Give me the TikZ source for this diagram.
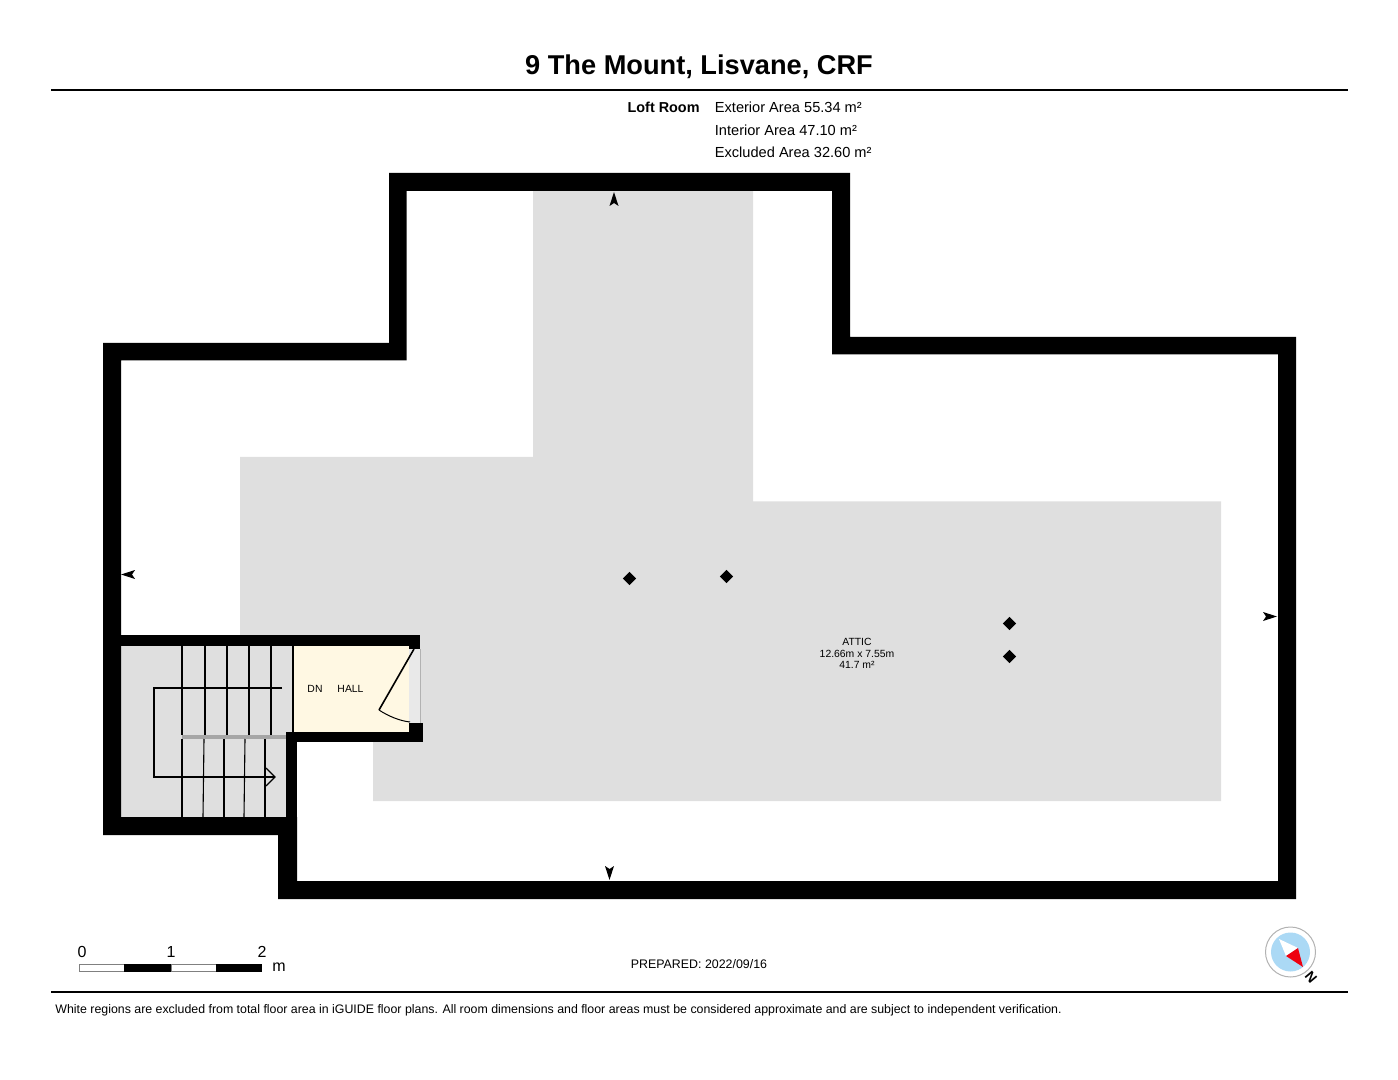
\documentclass[tikz,border=0pt]{standalone}
\usepackage{fontspec}
\setmainfont{Liberation Sans}
\usetikzlibrary{shapes.geometric}
\definecolor{AtticGray}{HTML}{DFDFDF}
\definecolor{HallCream}{HTML}{FFF8E3}
\definecolor{DoorGray}{HTML}{E9E9E9}
\definecolor{CompassBlue}{HTML}{ABD9F5}
\definecolor{NeedleRed}{HTML}{EE0010}
\tikzset{
    T/.style = {inner sep=0pt, text=black, font=\fontsize{#1}{#1}\selectfont},
    T/.default = 6.7,
    rule/.style = {line width=1.25pt},
    tread/.style = {line width=0.55pt, black},
    spot/.style = {diamond, fill=black, inner sep=0pt, minimum size=6.8pt},
    view/.style = {fill=black}
}
\begin{document}
\begin{tikzpicture}[x=0.5pt, y=-0.5pt]
  \useasboundingbox (0,0) rectangle (1398,1080);

  %%% HEADER %%%
  \node[T=13.6, font=\bfseries\fontsize{13.6}{13.6}\selectfont] (title) at (699,66.5) {9 The Mount, Lisvane, CRF};
  \draw[rule] (51,90) -- (1348,90);
  \node[T=7.2, font=\bfseries\fontsize{7.2}{7.2}\selectfont, anchor=east] (loft) at (700,107.5) {Loft Room};
  \node[T=7.3, anchor=west] (exterior) at (714.5,107.5) {Exterior Area 55.34 m²};
  \node[T=7.3, anchor=west] (interior) at (714.5,130) {Interior Area 47.10 m²};
  \node[T=7.3, anchor=west] (excluded) at (714.5,152.5) {Excluded Area 32.60 m²};

  %%% ATTIC %%%
  \fill[AtticGray] (533,191) -- (753,191) -- (753,501.5) -- (1221,501.5) -- (1221,801) -- (373,801)
    -- (373,740) -- (420,740) -- (420,640) -- (240,640) -- (240,457) -- (533,457) -- cycle;

  %%% STAIR ROOM %%%
  \fill[AtticGray] (121,640) rectangle (293,825);
  \fill[HallCream] (293,640) rectangle (409,737);
  \fill[DoorGray] (409,645) rectangle (420,728);
  \draw[line width=0.3pt, gray!60] (420,649) -- (420,723);
  \fill[gray!70] (182,735) rectangle (286,739);
  \foreach \x in {182,205,227,249,271,293}
    \draw[tread] (\x,646) -- (\x,735);
  \foreach \x/\y in {182/182,204/203,224/224,245/244,265/265}
    \draw[tread] (\x,739) -- (\y,817);
  \draw[tread] (282,688) -- (154,688) -- (154,777) -- (275,777);
  \draw[tread] (266,768) -- (275,777) -- (266,786);

  %%% WALLS %%%
  \fill[black, even odd rule]
    (103,343) -- (389,343) -- (389,173) -- (850,173) -- (850,337) -- (1296,337) -- (1296,899)
    -- (278,899) -- (278,835) -- (103,835) -- cycle
    (121,360.5) -- (406.5,360.5) -- (406.5,191) -- (832,191) -- (832,354.5) -- (1278,354.5) -- (1278,881)
    -- (297,881) -- (297,817) -- (121,817) -- cycle;
  \fill[black] (121,635) rectangle (420,646);
  \fill[black] (409,635) rectangle (420,649);
  \fill[black] (286,732) rectangle (423,742);
  \fill[black] (286,732) rectangle (297,817);
  \fill[black] (409,723) rectangle (423,742);

  %%% DOOR %%%
  \draw[line width=0.8pt] (414,649) -- (379,710);
  \draw[line width=0.5pt] (379,710) .. controls (388,716) and (400,721) .. (410,722);

  %%% LABELS %%%
  \node[T=5.2] (dn) at (315,688.5) {DN};
  \node[T=5.2] (hall) at (350.5,688.5) {HALL};
  \node[T=5.2] (attic) at (857,642) {ATTIC};
  \node[T=5.2] (size) at (857,653.5) {12.66m x 7.55m};
  \node[T=5.2] (area) at (857,665) {41.7 m²};

  %%% POSTS %%%
  \node[spot] (p1) at (629.5,578.5) {};
  \node[spot] (p2) at (726.5,576.5) {};
  \node[spot] (p3) at (1009.5,623.5) {};
  \node[spot] (p4) at (1009.5,656.5) {};

  %%% VIEW MARKERS %%%
  \foreach \x/\y/\a in {614/199/0,128/574.5/90,1270/616.5/-90,609.5/873/180}
    \fill[view, shift={(\x,\y)}, rotate=\a] (0,-7) -- (4.5,7) -- (0,4) -- (-4.5,7) -- cycle;

  %%% SCALE BAR %%%
  \draw[line width=0.4pt, gray, fill=white] (79,964) rectangle (124,971);
  \fill[black] (124,963.5) rectangle (171,971.5);
  \draw[line width=0.4pt, gray, fill=white] (171,964) rectangle (216,971);
  \fill[black] (216,963.5) rectangle (262,971.5);
  \node[T=8] (s0) at (82,951.5) {0};
  \node[T=8] (s1) at (171,951.5) {1};
  \node[T=8] (s2) at (262,951.5) {2};
  \node[T=8] (unit) at (279,967) {m};

  %%% FOOTER %%%
  \node[T=6.2] (prepared) at (699,964) {PREPARED: 2022/09/16};
  \draw[rule] (51,992) -- (1348,992);
  \node[T=6.18, anchor=west] (note) at (55,1010) {White regions are excluded from total floor area in iGUIDE floor plans. All room dimensions and floor areas must be considered approximate and are subject to independent verification.};

  %%% COMPASS %%%
  \draw[line width=0.5pt, gray!60, fill=white] (1290.5,952) circle [radius=25];
  \fill[CompassBlue] (1290.5,952) circle [radius=19.5];
  \fill[white] (1279,939) -- (1298,948) -- (1286,956) -- cycle;
  \fill[NeedleRed] (1303,967) -- (1298,948) -- (1286,956) -- cycle;
  \node[T=7, font=\bfseries\fontsize{7}{7}\selectfont, rotate=-50] (north) at (1311,977) {N};
\end{tikzpicture}
\end{document}
